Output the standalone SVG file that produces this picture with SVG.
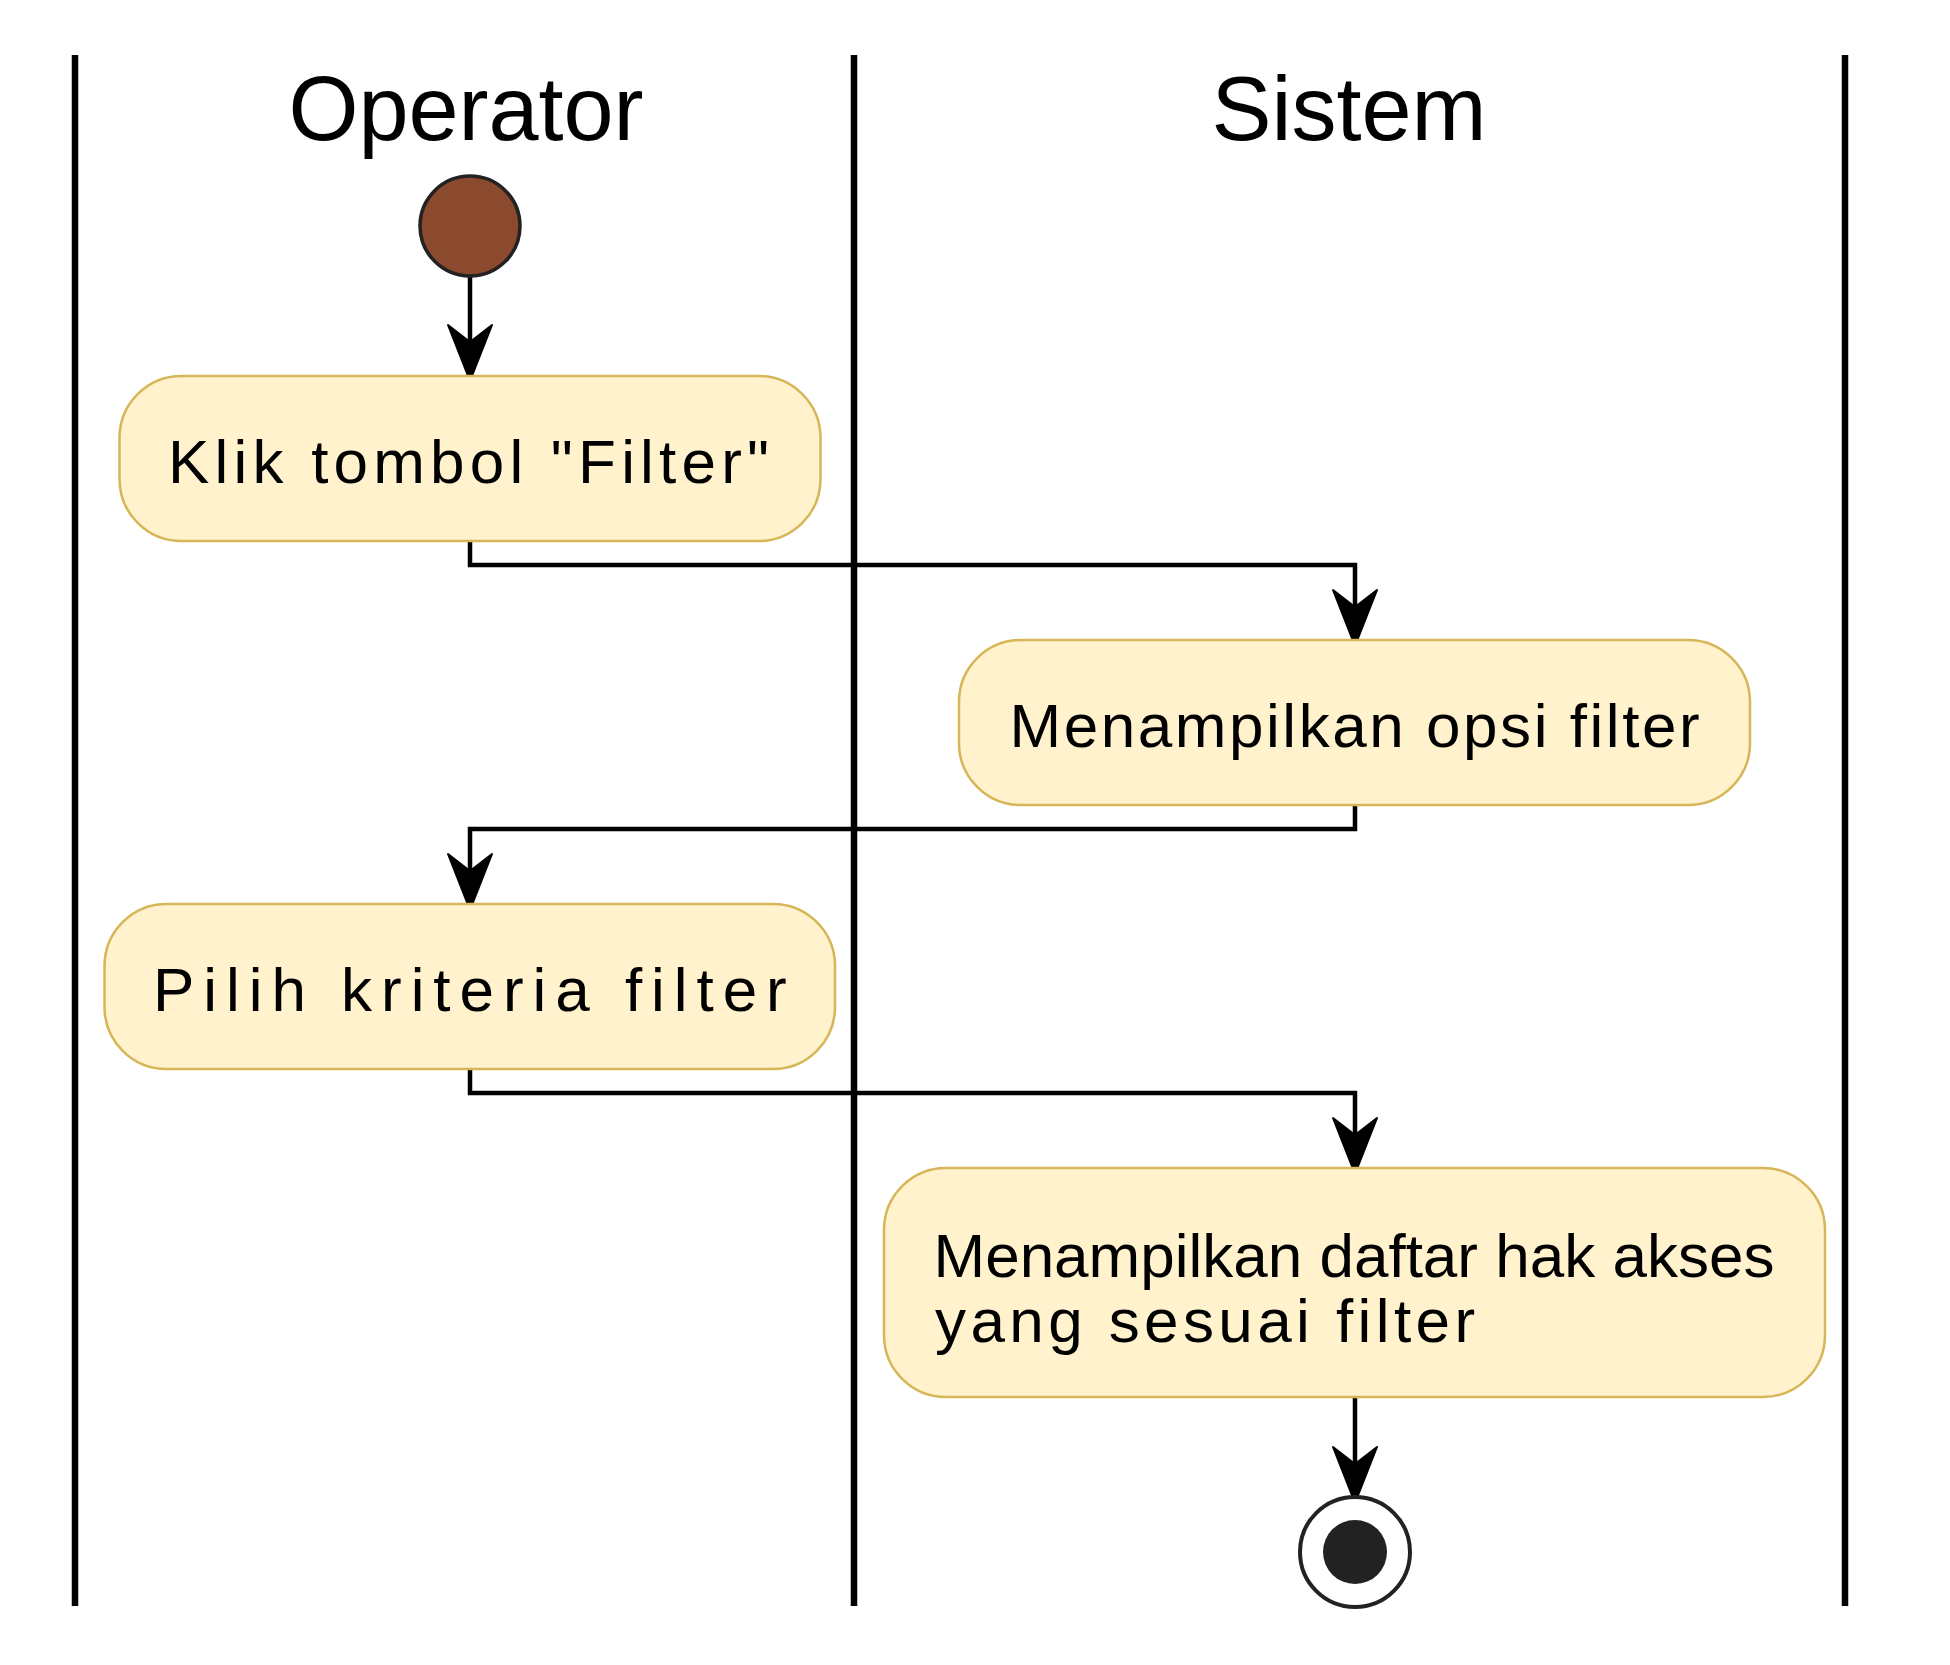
<svg xmlns="http://www.w3.org/2000/svg" width="1950" height="1665" viewBox="0 0 1950 1665">
  <style>
    .lane { stroke: #000; stroke-width: 6.5; }
    .hdr { font-family: "Liberation Sans", Arial, sans-serif; font-size: 90px; fill: #000; text-anchor: middle; }
    .conn { fill: none; stroke: #000; stroke-width: 4.5; marker-end: url(#ah); }
    .act rect { fill: #FFF2CC; stroke: #D6B656; stroke-width: 2.5; }
    .act text { font-family: "Liberation Sans", Arial, sans-serif; font-size: 62px; fill: #000; }
    .start { fill: #8B4A2E; stroke: #222; stroke-width: 3.5; }
    .end-ring { fill: #fff; stroke: #222; stroke-width: 4; }
    .end-dot { fill: #222; }
  </style>
  <defs>
    <!-- notched arrowhead; reference point sits at the notch so the line stays hidden under it -->
    <marker id="ah" markerUnits="userSpaceOnUse" orient="auto" refX="0" refY="0" markerWidth="64" markerHeight="52" viewBox="-22 -26 64 52" overflow="visible">
      <path d="M39,0 L-17,-22 L0,0 L-17,22 Z" fill="#000" stroke="#000" stroke-width="2" stroke-linejoin="round"/>
    </marker>
  </defs>

  <rect width="1950" height="1665" fill="#fff"/>

  <!-- swimlanes -->
  <g id="lanes">
    <line class="lane" x1="75" y1="55" x2="75" y2="1606"/>
    <line class="lane" x1="854" y1="55" x2="854" y2="1606"/>
    <line class="lane" x1="1845" y1="55" x2="1845" y2="1606"/>
    <text class="hdr" x="466" y="140">Operator</text>
    <text class="hdr" x="1349" y="140">Sistem</text>
  </g>

  <!-- flow connectors -->
  <g id="connectors">
    <path class="conn" d="M470,277 L470,342"/>
    <path class="conn" d="M470,541 L470,565 L1355,565 L1355,607"/>
    <path class="conn" d="M1355,805 L1355,829 L470,829 L470,871"/>
    <path class="conn" d="M470,1069 L470,1093 L1355,1093 L1355,1135"/>
    <path class="conn" d="M1355,1397 L1355,1464"/>
  </g>

  <g id="start">
    <circle class="start" cx="470" cy="226" r="50"/>
  </g>

  <g id="klik-filter" class="act">
    <rect x="119.5" y="376" width="701" height="165" rx="62" ry="62"/>
    <text x="168" y="483" letter-spacing="5.2">Klik tombol "Filter"</text>
  </g>

  <g id="tampil-opsi" class="act">
    <rect x="959" y="640" width="791" height="165" rx="62" ry="62"/>
    <text x="1009.5" y="747" letter-spacing="2.55">Menampilkan opsi filter</text>
  </g>

  <g id="pilih-kriteria" class="act">
    <rect x="104.5" y="904" width="730.5" height="165" rx="62" ry="62"/>
    <text x="153" y="1011" letter-spacing="8.95">Pilih kriteria filter</text>
  </g>

  <g id="tampil-daftar" class="act">
    <rect x="884" y="1168" width="941" height="229" rx="62" ry="62"/>
    <text x="933.5" y="1277">Menampilkan daftar hak akses</text>
    <text x="935" y="1342" letter-spacing="4.4">yang sesuai filter</text>
  </g>

  <g id="end">
    <circle class="end-ring" cx="1355" cy="1552" r="55"/>
    <circle class="end-dot" cx="1355" cy="1552" r="32"/>
  </g>
</svg>
